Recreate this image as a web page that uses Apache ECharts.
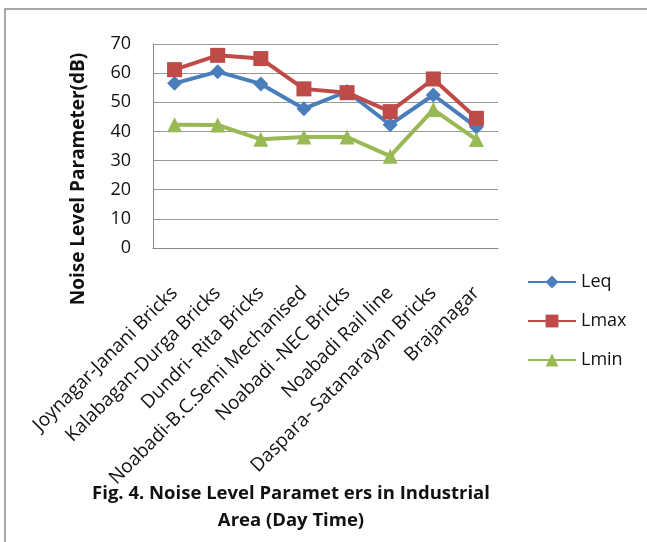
<!DOCTYPE html>
<html><head><meta charset="utf-8">
<script src="https://cdn.jsdelivr.net/npm/echarts@6/dist/echarts.min.js"></script>
<style>html,body{margin:0;padding:0;background:#fff}#c{width:647px;height:542px}</style>
</head><body><div id="c"></div>
<script>
const categories = ["Joynagar-Janani Bricks","Kalabagan-Durga Bricks","Dundri- Rita Bricks","Noabadi-B.C.Semi Mechanised","Noabadi -NEC Bricks","Noabadi Rail line","Daspara- Satanarayan Bricks","Brajanagar"];
const leq  = [56.5, 60.5, 56.3, 47.8, 53.7, 42.3, 52.5, 41.5];
const lmax = [61.2, 66.1, 65.0, 54.6, 53.3, 46.8, 58.0, 44.5];
const lmin = [42.3, 42.2, 37.3, 38.1, 38.1, 31.5, 47.5, 37.2];
const yTicks = [0, 10, 20, 30, 40, 50, 60, 70];
const fontF = "'Open Sans', 'Liberation Sans', sans-serif";
const chart = echarts.init(document.getElementById('c'));
const mk = (name, data, color, symbol, size) => ({
  name, type: 'line', data, symbol, symbolSize: size, showSymbol: true,
  lineStyle: {color, width: 4}, itemStyle: {color}, animation: false
});
chart.setOption({
  animation: false,
  grid: {left: 153, top: 44, width: 345, height: 204, containLabel: false},
  graphic: [
    {type: 'rect', shape: {x: 5, y: 9, width: 700, height: 600}, style: {fill: 'none', stroke: '#8c8c8c', lineWidth: 1.5}},
    {type: 'text', style: {x: 291, y: 484, text: 'Fig. 4. Noise Level Paramet ers in Industrial', font: 'bold 18.5px ' + fontF, fill: '#111', align: 'center'}},
    {type: 'text', style: {x: 291, y: 511, text: 'Area (Day Time)', font: 'bold 18.5px ' + fontF, fill: '#111', align: 'center'}},
    {type: 'text', x: 79, y: 179, rotation: Math.PI / 2, style: {x: 0, y: 0, text: 'Noise Level Parameter(dB)', font: 'bold 19px ' + fontF, fill: '#111', align: 'center', verticalAlign: 'middle'}}
  ],
  legend: {
    orient: 'vertical', left: 522, top: 268, itemGap: 21, itemWidth: 48, itemHeight: 16,
    textStyle: {fontSize: 18, fontFamily: fontF, color: '#111'},
    data: ['Leq', 'Lmax', 'Lmin']
  },
  xAxis: {
    type: 'category', data: categories, boundaryGap: true,
    axisLine: {lineStyle: {color: '#888', width: 1}}, axisTick: {show: false},
    axisLabel: {rotate: 45, interval: 0, fontSize: 19, fontFamily: fontF, color: '#111', margin: 42}
  },
  yAxis: {
    type: 'value', min: yTicks[0], max: yTicks[yTicks.length - 1], interval: 10,
    axisLine: {show: true, lineStyle: {color: '#888'}}, axisTick: {show: false},
    axisLabel: {fontSize: 18, fontFamily: fontF, color: '#111', margin: 22},
    splitLine: {lineStyle: {color: '#999', width: 1}}
  },
  series: [
    mk('Leq', leq, '#4a7ebb', 'diamond', 15),
    mk('Lmax', lmax, '#be4b48', 'rect', 15),
    mk('Lmin', lmin, '#98b954', 'triangle', 15)
  ]
});
</script></body></html>
